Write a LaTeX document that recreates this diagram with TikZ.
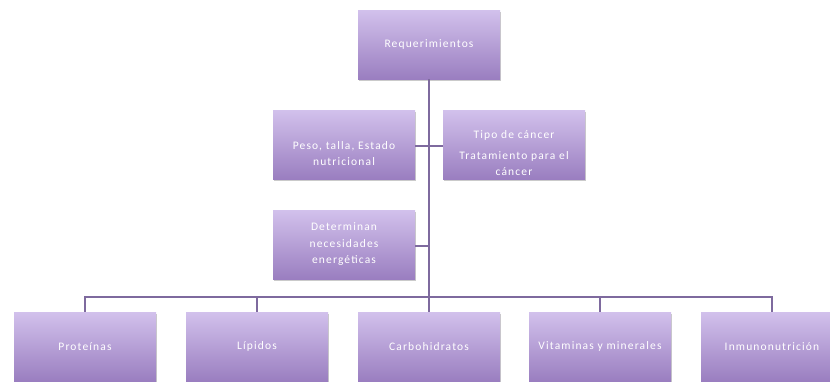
\documentclass[tikz,border=0pt]{standalone}
\usepackage{fontspec}
\setmainfont{Carlito}
\usetikzlibrary{shadows}
\definecolor{boxtop}{HTML}{D2C1EC}
\definecolor{boxbot}{HTML}{9A7EC0}
\definecolor{linecol}{HTML}{7E6A9E}
\tikzset{
  pbox/.style={rectangle, minimum width=142pt, minimum height=69pt, align=center,
    top color=boxtop, bottom color=boxbot, draw=none, text=white,
    font=\fontsize{11.5}{16.5}\selectfont\addfontfeature{LetterSpace=10},
    drop shadow={shadow xshift=1.2pt, shadow yshift=-1.5pt, opacity=0.35, fill=black!60}},
  lowtext/.style={label={[align=center, text=white, yshift=-9pt,
    font=\fontsize{11.5}{16.5}\selectfont\addfontfeature{LetterSpace=10}]center:#1}},
  conn/.style={draw=linecol, line width=1.4pt}
}
\begin{document}
\begin{tikzpicture}[x=1pt,y=-1pt]
\useasboundingbox (0,0) rectangle (830,381);
\node[pbox] (req) at (429,44.5) {Requerimientos};
\node[pbox, lowtext={Peso, talla, Estado\\nutricional}] (peso) at (344,144.5) {};
\node[pbox, lowtext={Tipo de cáncer\\[4pt]Tratamiento para el\\cáncer}] (tipo) at (514,144.5) {};
\node[pbox] (det) at (344,244.5) {Determinan\\necesidades\\energéticas};
\node[pbox] (prot) at (85,346.5) {Proteínas};
\node[pbox] (lip) at (257,346.5) {Lípidos};
\node[pbox] (carb) at (429,346.5) {Carbohidratos};
\node[pbox] (vit) at (600,346.5) {Vitaminas y minerales};
\node[pbox] (inm) at (772,346.5) {Inmunonutrición};
\coordinate (bus) at (429,297);
\coordinate (mid1) at (429,146);
\coordinate (mid2) at (429,246);
\draw[conn] (req.south) -- (bus);
\draw[conn] (peso.east |- mid1) -- (tipo.west |- mid1);
\draw[conn] (det.east |- mid2) -- (mid2);
\draw[conn] (prot.north) -- (prot.north |- bus) -- (inm.north |- bus) -- (inm.north);
\draw[conn] (lip.north) -- (lip.north |- bus);
\draw[conn] (carb.north) -- (carb.north |- bus);
\draw[conn] (vit.north) -- (vit.north |- bus);
\end{tikzpicture}
\end{document}
